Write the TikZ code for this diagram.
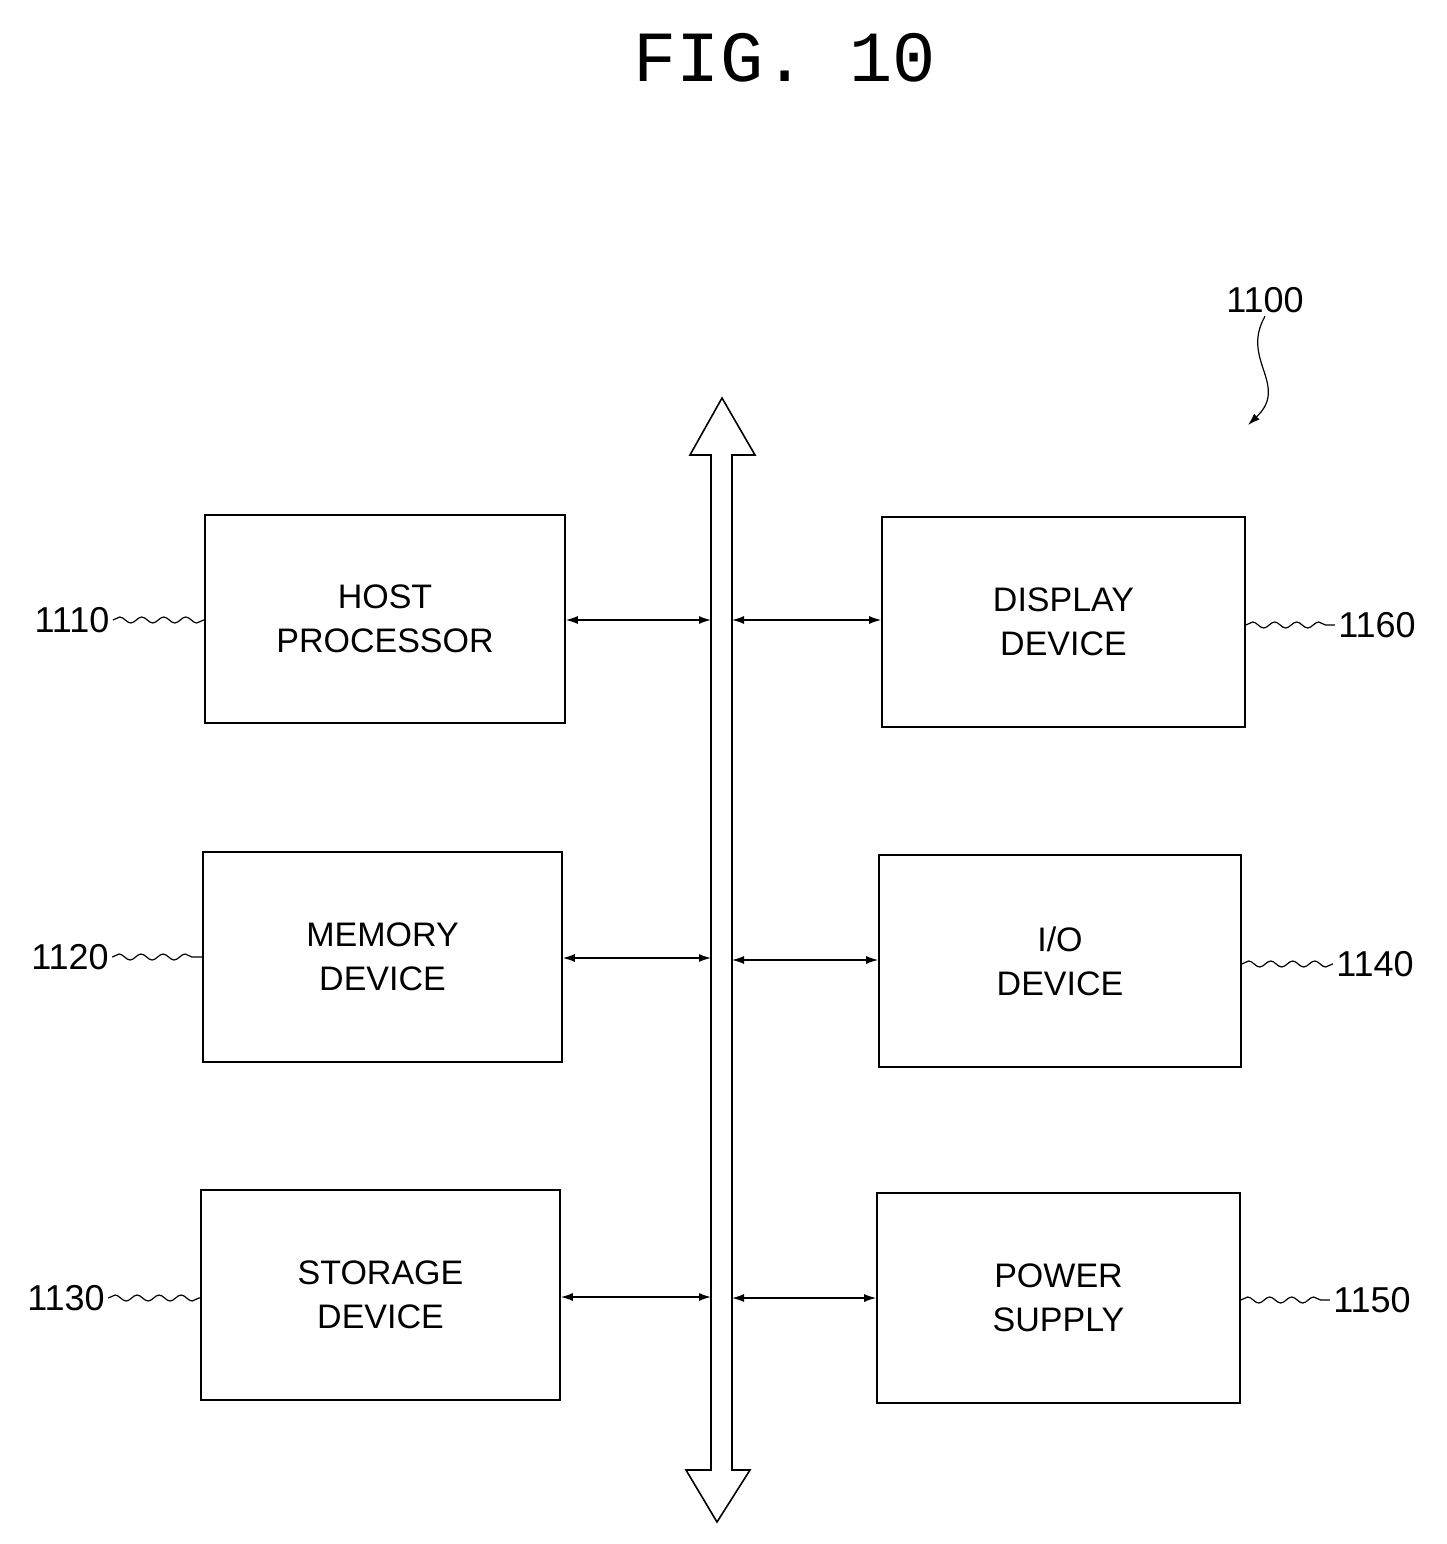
\documentclass[tikz,border=0pt]{standalone}
\usepackage{fontspec}
\setmainfont{Liberation Sans}
\newfontfamily\monof{Liberation Mono}
\usetikzlibrary{decorations.pathmorphing,arrows.meta}
\begin{document}
\begin{tikzpicture}[x=1pt,y=-1pt,
  box/.style={draw,line width=1.6pt,inner sep=0pt,align=center,font=\fontsize{34}{44}\selectfont},
  ref/.style={font=\fontsize{36}{40}\selectfont},
  conn/.style={line width=1.4pt,{Latex[length=12pt,width=8pt]}-{Latex[length=12pt,width=8pt]}},
  wavy/.style={line width=1.2pt,decorate,decoration={snake,segment length=22pt,amplitude=3pt}}]
\useasboundingbox (0,0) rectangle (1446,1544);
\node[font=\monof\fontsize{72}{80}\selectfont] (title) at (785,58) {FIG. 10};
% boxes
\node[box,minimum width=360pt,minimum height=208pt] (host) at (385,619) {HOST\\PROCESSOR};
\node[box,minimum width=359pt,minimum height=210pt] (mem) at (382.5,957) {MEMORY\\DEVICE};
\node[box,minimum width=359pt,minimum height=210pt] (sto) at (380.5,1295) {STORAGE\\DEVICE};
\node[box,minimum width=363pt,minimum height=210pt] (disp) at (1063.5,622) {DISPLAY\\DEVICE};
\node[box,minimum width=362pt,minimum height=212pt] (io) at (1060,961) {I/O\\DEVICE};
\node[box,minimum width=363pt,minimum height=210pt] (pow) at (1058.5,1298) {POWER\\SUPPLY};
% bus
\draw[line width=1.6pt] (711,1470) -- (711,455) -- (690,455) -- (722,398) -- (755,455) -- (732,455)
  -- (732,1470) -- (750,1470) -- (717,1522) -- (686,1470) -- cycle;
\coordinate (bl1) at (711,620); \coordinate (br1) at (732,620);
\coordinate (bl2) at (711,958); \coordinate (br2) at (732,960);
\coordinate (bl3) at (711,1297); \coordinate (br3) at (732,1298);
\draw[conn] (host.east |- bl1) -- (bl1);
\draw[conn] (mem.east |- bl2) -- (bl2);
\draw[conn] (sto.east |- bl3) -- (bl3);
\draw[conn] (br1) -- (disp.west |- br1);
\draw[conn] (br2) -- (io.west |- br2);
\draw[conn] (br3) -- (pow.west |- br3);
% reference labels
\node[ref] (l1110) at (72,620) {1110};
\node[ref] (l1120) at (70,957) {1120};
\node[ref] (l1130) at (66,1298) {1130};
\node[ref] (l1160) at (1377,625) {1160};
\node[ref] (l1140) at (1375,964) {1140};
\node[ref] (l1150) at (1372,1300) {1150};
\node[ref] (l1100) at (1265,300) {1100};
\draw[wavy] (l1110.east) -- (host.west |- l1110.east);
\draw[wavy] (l1120.east) -- (mem.west |- l1120.east);
\draw[wavy] (l1130.east) -- (sto.west |- l1130.east);
\draw[wavy] (disp.east |- l1160.west) -- (l1160.west);
\draw[wavy] (io.east |- l1140.west) -- (l1140.west);
\draw[wavy] (pow.east |- l1150.west) -- (l1150.west);
\coordinate (t1100) at (1248,425);
\draw[line width=1.2pt,-{Latex[length=12pt,width=8pt]}] (l1100.south) .. controls (1240,360) and (1290,385) .. (t1100);
\end{tikzpicture}
\end{document}
